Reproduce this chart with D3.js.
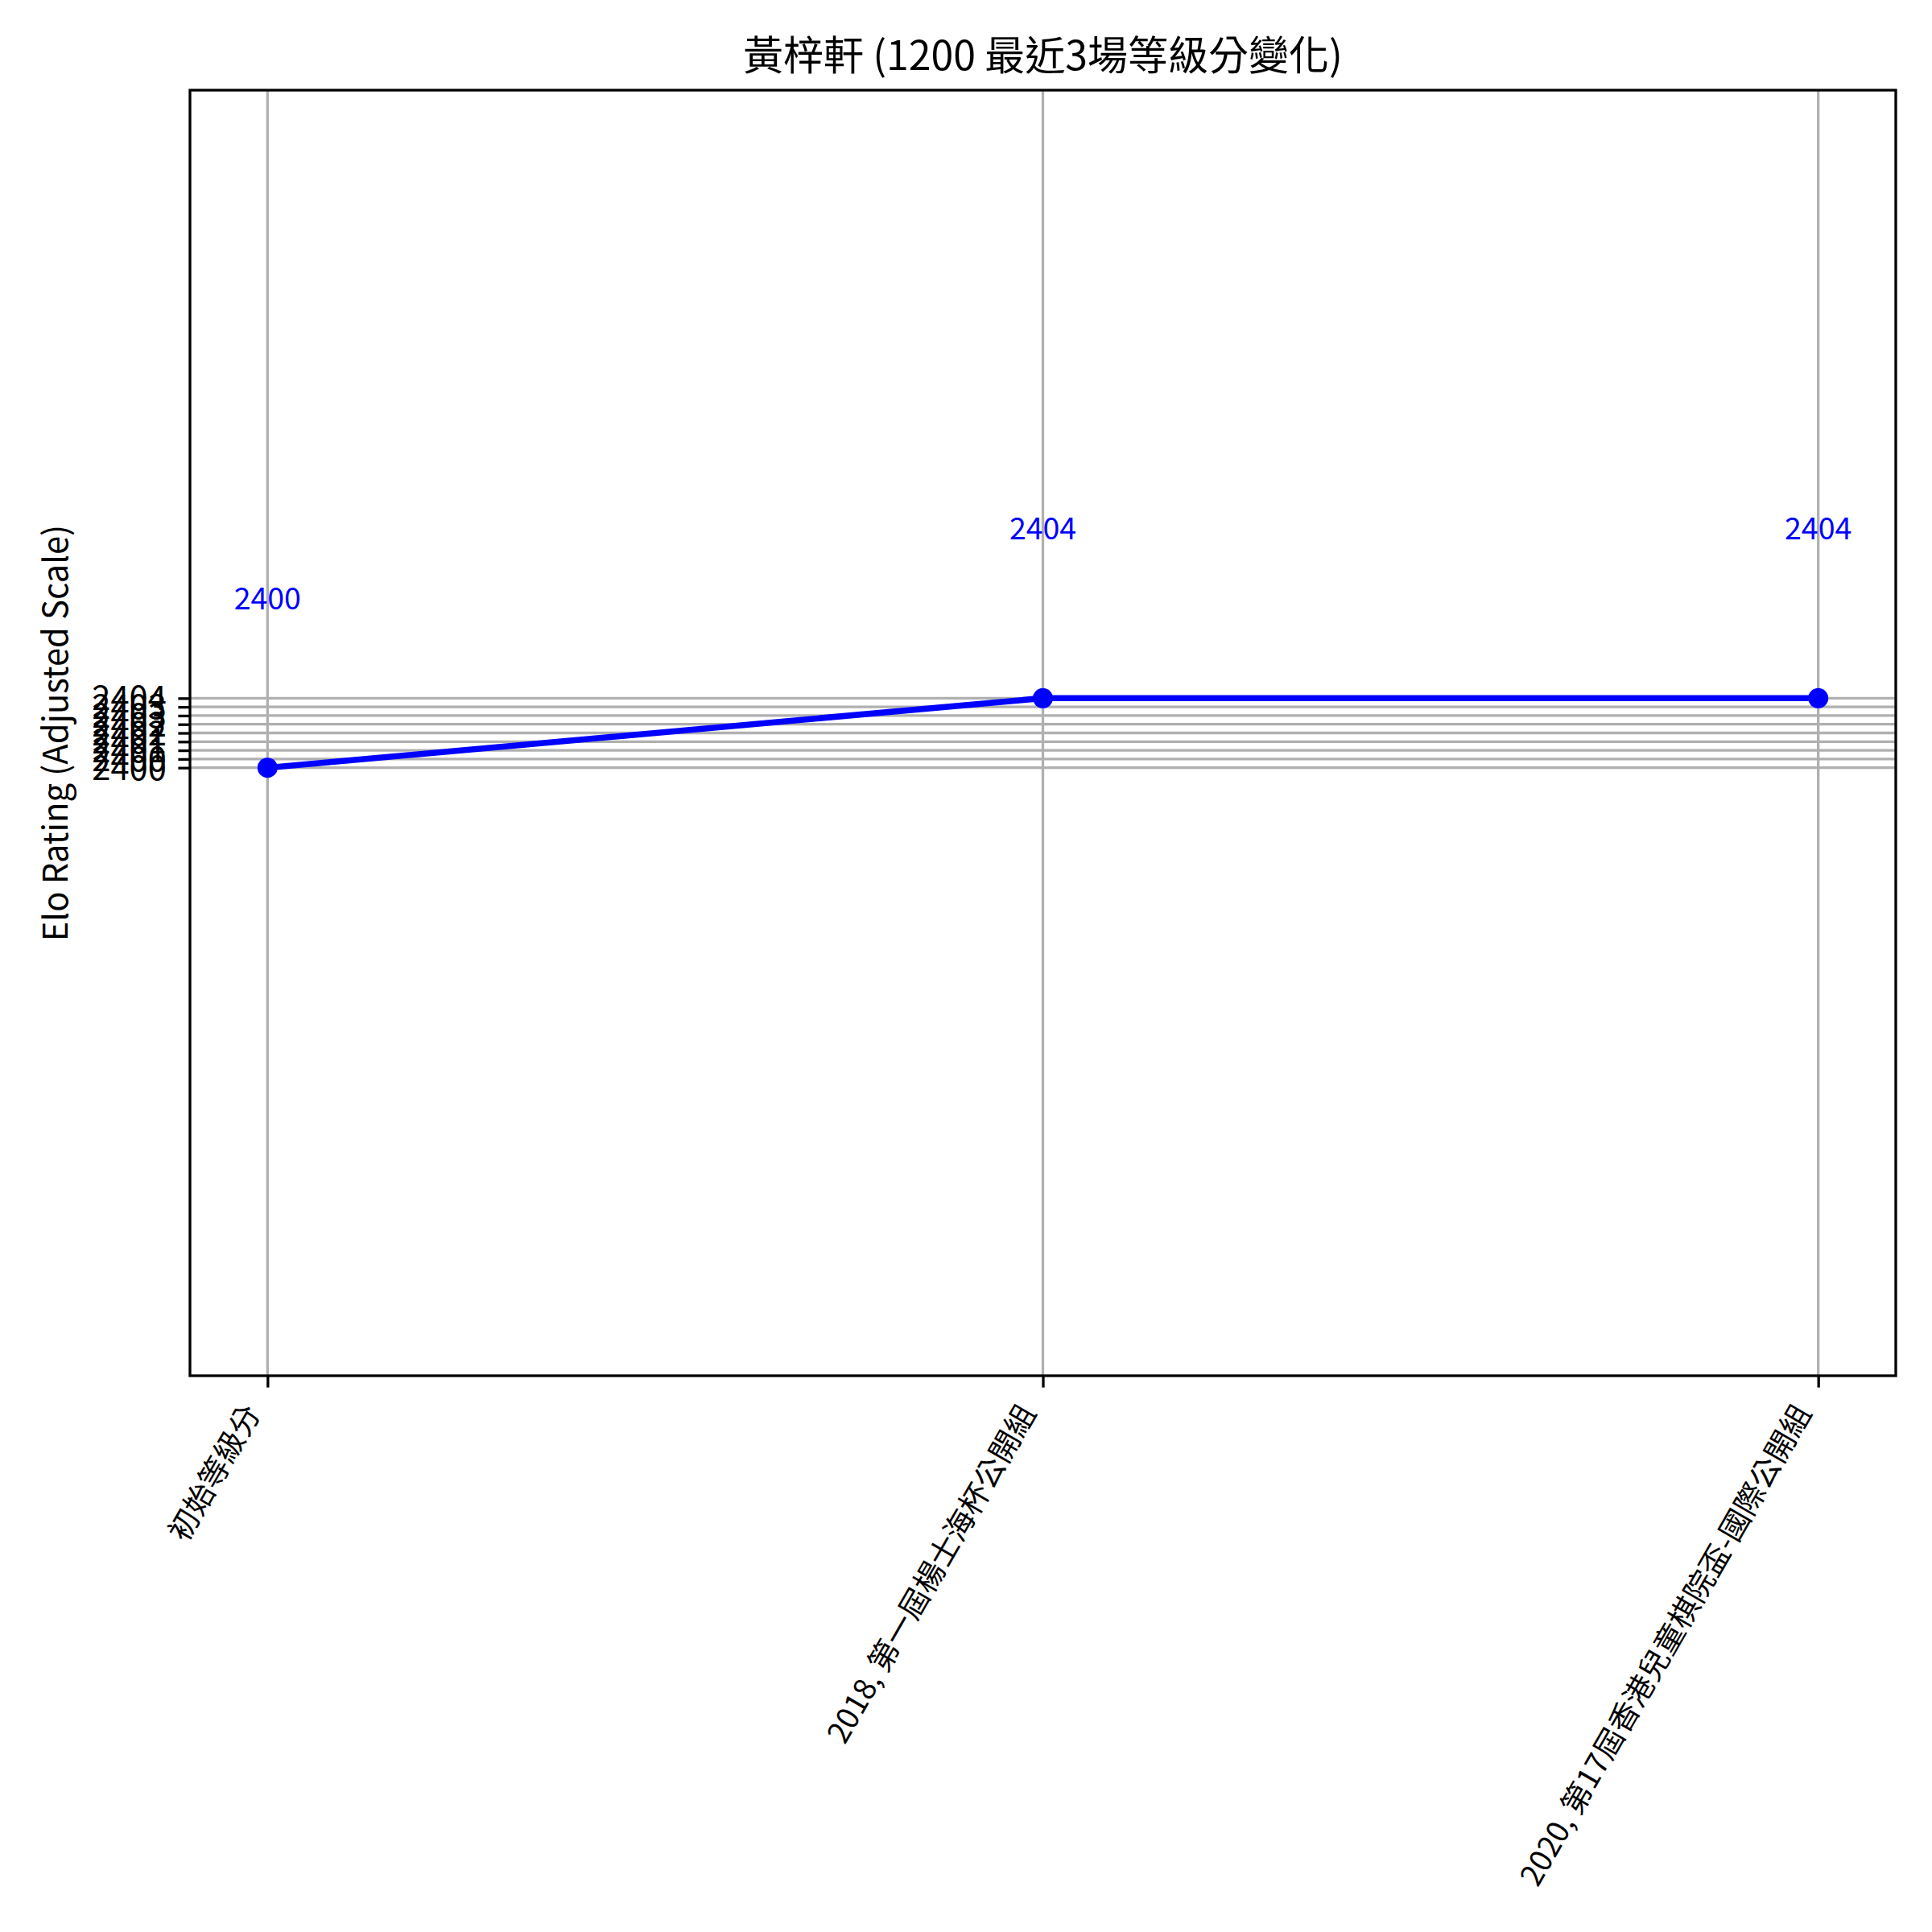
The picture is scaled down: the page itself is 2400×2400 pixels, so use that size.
<!DOCTYPE html>
<html>
<head>
<meta charset="utf-8">
<script src="https://cdn.jsdelivr.net/npm/d3@7"></script>
<style>
  html, body { margin: 0; padding: 0; background: #fff; }
  svg text { font-family: "Noto Sans CJK TC", "Noto Sans", sans-serif; }
</style>
</head>
<body>
<svg id="chart" width="2400" height="2400"></svg>
<script>
const categories = ["初始等級分", "2018, 第一屆楊士海杯公開組", "2020, 第17屆香港兒童棋院盃-國際公開組"];
const ratings = [2400, 2404, 2404];
const yTickValues = [2400, 2400.5, 2401, 2401.5, 2402, 2402.5, 2403, 2403.5, 2404];
const yTickLabels = ["2400", "2400", "2401", "2401", "2402", "2402", "2403", "2403", "2404"];
const titleText = "黃梓軒 (1200 最近3場等級分變化)";
const yLabelText = "Elo Rating (Adjusted Scale)";

const svg = d3.select("#chart");
svg.append("rect").attr("width", 2400).attr("height", 2400).attr("fill", "#fff");

const L = 236, R = 2355, T = 112, B = 1709;
const fs = 41.67, fsAnn = 37.5, fsX = 37.5;

const x = d3.scaleLinear().domain([-0.1, categories.length - 1 + 0.1]).range([L, R]);
const y = d3.scaleLinear().domain([2365, 2439]).range([B, T]);

// grid
const grid = svg.append("g");
grid.selectAll("line.v").data(categories).join("line")
  .attr("x1", (d, i) => x(i)).attr("x2", (d, i) => x(i))
  .attr("y1", T).attr("y2", B)
  .attr("stroke", "#b0b0b0").attr("stroke-width", 3.3);
grid.selectAll("line.h").data(yTickValues).join("line")
  .attr("x1", L).attr("x2", R)
  .attr("y1", d => y(d)).attr("y2", d => y(d))
  .attr("stroke", "#b0b0b0").attr("stroke-width", 3.3);

// line
const line = d3.line().x((d, i) => x(i)).y(d => y(d));
svg.append("path").datum(ratings)
  .attr("d", line).attr("fill", "none")
  .attr("stroke", "#0000ff").attr("stroke-width", 7.5)
  .attr("stroke-linejoin", "round").attr("stroke-linecap", "square");
svg.selectAll("circle.pt").data(ratings).join("circle")
  .attr("cx", (d, i) => x(i)).attr("cy", d => y(d)).attr("r", 12.5)
  .attr("fill", "#0000ff");

// annotations
svg.selectAll("text.ann").data(ratings).join("text")
  .attr("x", (d, i) => x(i)).attr("y", d => y(d) - 197)
  .attr("text-anchor", "middle").attr("font-size", fsAnn)
  .attr("fill", "#0000ff").text(d => String(d));

// spines
svg.append("rect").attr("x", L).attr("y", T).attr("width", R - L).attr("height", B - T)
  .attr("fill", "none").attr("stroke", "#000").attr("stroke-width", 3.3);

// y axis
const yAxis = d3.axisLeft(y).tickValues(yTickValues)
  .tickFormat((d, i) => yTickLabels[i]).tickSize(14.6).tickPadding(14.6);
const gy = svg.append("g").attr("transform", `translate(${L},0)`).call(yAxis);
gy.select(".domain").remove();
gy.selectAll(".tick line").attr("stroke", "#000").attr("stroke-width", 3.3);
gy.selectAll(".tick text").attr("font-size", fs).attr("fill", "#000")
  .attr("font-family", "'Noto Sans CJK TC', sans-serif").attr("dy", "0.35em");

// x axis
const xAxis = d3.axisBottom(x).tickValues(d3.range(categories.length))
  .tickFormat(i => categories[i]).tickSize(14.6).tickPadding(0);
const gx = svg.append("g").attr("transform", `translate(0,${B})`).call(xAxis);
gx.select(".domain").remove();
gx.selectAll(".tick line").attr("stroke", "#000").attr("stroke-width", 3.3);
gx.selectAll(".tick text")
  .attr("font-size", fsX).attr("fill", "#000")
  .attr("font-family", "'Noto Sans CJK TC', sans-serif")
  .attr("text-anchor", "end").attr("dy", null).attr("y", null)
  .attr("transform", "translate(-8,46) rotate(-60)");

// title
svg.append("text").attr("x", (L + R) / 2).attr("y", 87)
  .attr("text-anchor", "middle").attr("font-size", 50).attr("fill", "#000")
  .text(titleText);

// y label
svg.append("text").attr("transform", `translate(84,${(T + B) / 2}) rotate(-90)`)
  .attr("text-anchor", "middle").attr("font-size", fs).attr("fill", "#000")
  .text(yLabelText);
</script>
</body>
</html>
